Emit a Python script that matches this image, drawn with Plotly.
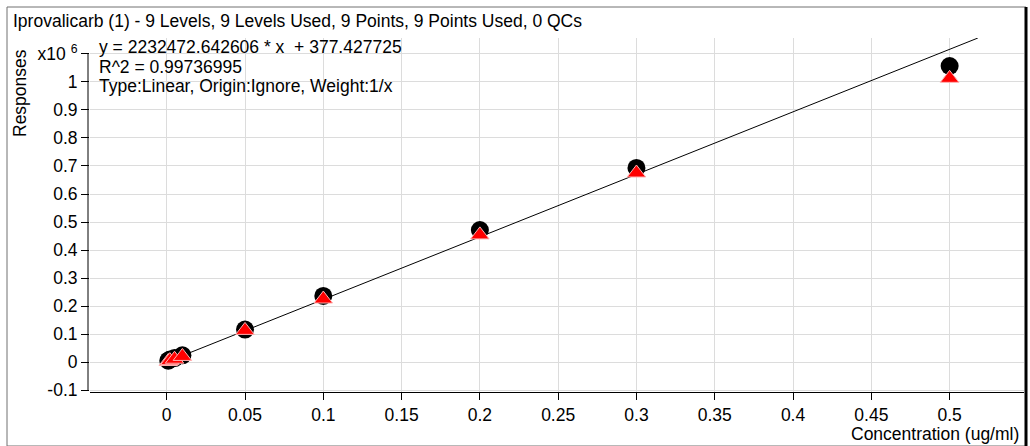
import plotly.graph_objects as go

# ---- data ----
concentrations = [0.001, 0.002, 0.005, 0.01, 0.05, 0.1, 0.2, 0.3, 0.5]
responses = [5000, 9000, 14000, 24000, 116000, 236000, 471000, 693000, 1057000]
responses_calc = [2000, 5000, 10000, 20000, 113000, 225000, 454000, 675000, 1013000]
slope = 2232472.642606
intercept = 377.427725
fit_x = [0.0, 0.518]
fit_y = [slope * v + intercept for v in fit_x]

x_ticks = [0, 0.05, 0.1, 0.15, 0.2, 0.25, 0.3, 0.35, 0.4, 0.45, 0.5]
x_ticklabels = ["0", "0.05", "0.1", "0.15", "0.2", "0.25", "0.3", "0.35", "0.4", "0.45", "0.5"]
y_ticks = [-100000, 0, 100000, 200000, 300000, 400000, 500000, 600000, 700000,
           800000, 900000, 1000000, 1100000]
y_ticklabels = ["-0.1", "0", "0.1", "0.2", "0.3", "0.4", "0.5", "0.6", "0.7",
                "0.8", "0.9", "1", "x10 <sup>6</sup>"]

title_text = "Iprovalicarb (1) - 9 Levels, 9 Levels Used, 9 Points, 9 Points Used, 0 QCs"
eq_lines = ["y = 2232472.642606 * x  + 377.427725",
            "R^2 = 0.99736995",
            "Type:Linear, Origin:Ignore, Weight:1/x"]

FONT = "Arial, Liberation Sans, sans-serif"
FS = 17.5

L, R, T, B = 90, 6, 38, 54
W, H = 1030, 446
PW, PH = W - L - R, H - T - B


def px(x):
    return (x - L) / PW


def py(y):
    return (H - B - y) / PH


fig = go.Figure()
fig.add_trace(go.Scatter(x=fit_x, y=fit_y, mode="lines",
                         line=dict(color="black", width=1), hoverinfo="skip"))
fig.add_trace(go.Scatter(x=concentrations, y=responses, mode="markers",
                         marker=dict(symbol="circle", size=18, color="black",
                                     line=dict(width=0))))
fig.add_trace(go.Scatter(x=concentrations, y=responses_calc, mode="markers",
                         marker=dict(symbol="triangle-up", size=16, color="#ff0000",
                                     line=dict(width=1, color="#ffb0b0"))))

fig.update_layout(
    width=W, height=H,
    margin=dict(l=L, r=R, t=T, b=B),
    plot_bgcolor="white", paper_bgcolor="white",
    showlegend=False,
    font=dict(family=FONT, size=FS, color="black"),
    xaxis=dict(range=[-0.049, 0.5475], tickvals=x_ticks, ticktext=x_ticklabels,
               showgrid=True, gridcolor="#dcdcdc", gridwidth=1, zeroline=False,
               showline=True, linecolor="black", linewidth=1,
               ticks="outside", ticklen=7, tickcolor="black",
               tickfont=dict(family=FONT, size=FS)),
    yaxis=dict(range=[-107000, 1157000], tickvals=y_ticks, ticktext=y_ticklabels,
               showgrid=True, gridcolor="#dcdcdc", gridwidth=1, zeroline=False,
               showline=False,
               ticks="outside", ticklen=8, tickcolor="black",
               tickfont=dict(family=FONT, size=FS)),
)

# y axis line only spanning tick range
fig.add_shape(type="line", xref="paper", yref="y", x0=px(88), x1=px(88),
              y0=y_ticks[0], y1=y_ticks[-1], line=dict(color="black", width=1))
# outer frame
fig.add_shape(type="rect", xref="paper", yref="paper",
              x0=px(7), x1=px(1026), y0=py(446), y1=py(7),
              line=dict(color="#707070", width=1))
fig.add_shape(type="line", xref="paper", yref="paper",
              x0=px(1026), x1=px(1026), y0=py(446), y1=py(7),
              line=dict(color="black", width=3))

fig.add_annotation(text=title_text, xref="paper", yref="paper",
                   x=px(11), y=py(21), xanchor="left", yanchor="middle",
                   showarrow=False, font=dict(family=FONT, size=FS))
for i, line in enumerate(eq_lines):
    fig.add_annotation(text=line, xref="paper", yref="paper",
                       x=px(97), y=py(47 + 19.5 * i),
                       xanchor="left", yanchor="middle",
                       showarrow=False, font=dict(family=FONT, size=FS))
fig.add_annotation(text="Responses", xref="paper", yref="paper",
                   x=px(20), y=py(93), textangle=-90,
                   xanchor="center", yanchor="middle",
                   showarrow=False, font=dict(family=FONT, size=FS))
fig.add_annotation(text="Concentration (ug/ml)", xref="paper", yref="paper",
                   x=px(1021), y=py(434), xanchor="right", yanchor="middle",
                   showarrow=False, font=dict(family=FONT, size=FS))

fig.write_html("out.html", config={"displayModeBar": False},
               post_script="document.body.style.margin='0';document.body.style.padding='0';")
